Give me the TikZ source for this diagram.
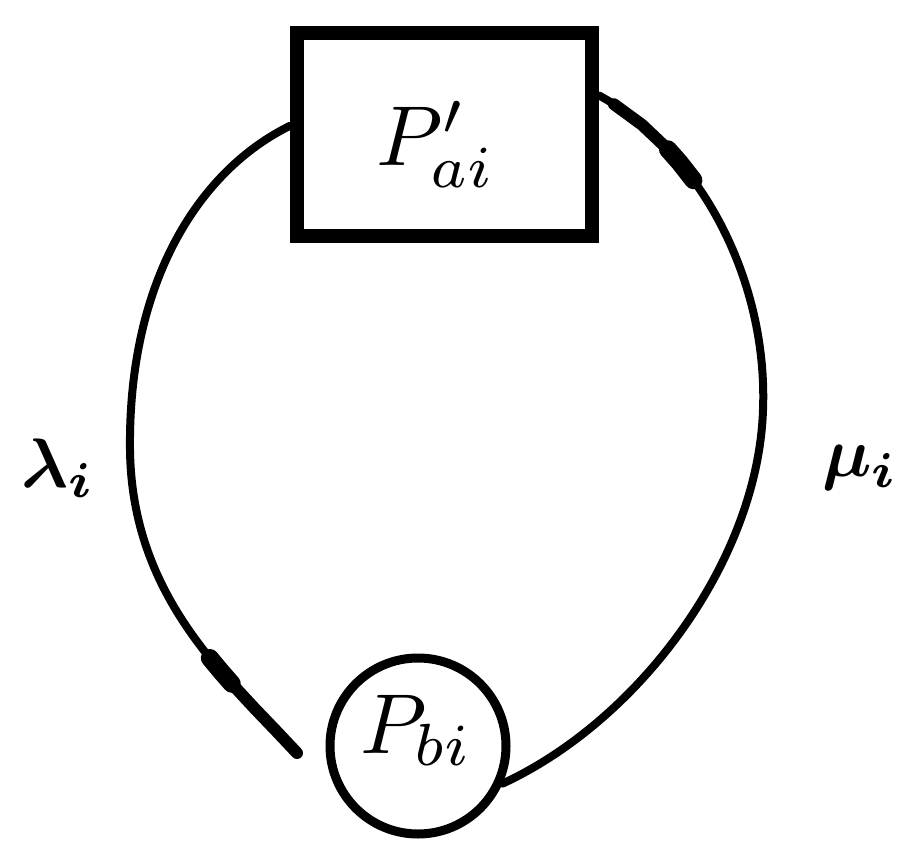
\documentclass[tikz,border=0pt]{standalone}
\usetikzlibrary{calc}
\begin{document}
\begin{tikzpicture}[x=1pt,y=-1pt,
  box/.style={draw,line width=14pt,rectangle,inner sep=0pt,minimum width=295pt,minimum height=203pt},
  ring/.style={draw,line width=9pt,circle,inner sep=0pt,minimum size=176pt},
  flow/.style={line width=8pt,line cap=round},
  spinA/.style={line width=12pt,line cap=round,line join=round},
  spinB/.style={line width=18pt,line cap=round,line join=round},
  big/.style={inner sep=0pt},
  lab/.style={inner sep=0pt}]
\useasboundingbox (0,0) rectangle (900,846);
\node[box] (rect) at (444.5,134.5) {};
\node[ring] (circ) at (418,746) {};
\coordinate (ls) at ($(rect.north west)!0.46!(rect.south west)$);
\coordinate (rs) at ($(rect.north east)!0.32!(rect.south east)$);
\coordinate (le) at (297,753);
% left connector (lambda)
\draw[flow] (ls) .. controls (200,170) and (128,280) .. (130,450)
  .. controls (132,600) and (230,680) ..
  coordinate[pos=.6] (l1) coordinate[pos=.65] (l2) coordinate[pos=.7] (l3)
  coordinate[pos=.8] (l4) coordinate[pos=.9] (l5) (le);
\draw[spinA] (l1) -- (l2) -- (l3) -- (l4) -- (l5) -- (le);
\draw[spinB] (l1) -- (l2) -- (l3);
% right connector (mu)
\draw[flow] (rs) .. controls (700,150) and (768,280) ..
  coordinate[pos=.05] (r1) coordinate[pos=.15] (r2) coordinate[pos=.25] (r3)
  coordinate[pos=.3] (r4) coordinate[pos=.36] (r5) (763,410)
  .. controls (758,560) and (640,720) .. (circ.-24);
\draw[spinA] (r1) -- (r2) -- (r3) -- (r4) -- (r5);
\draw[spinB] (r3) -- (r4) -- (r5);
% texts
\node[big,anchor=base west] (pa) at (376,165) {\scalebox{8.5}{$P'_{ai}$}};
\node[big,anchor=base west] (pb) at (360,753) {\scalebox{8.5}{$P_{bi}$}};
\node[lab] (lam) at (58,468) {\scalebox{7}{\boldmath$\lambda_i$}};
\node[lab] (mu) at (860,468) {\scalebox{7}{\boldmath$\mu_i$}};
\end{tikzpicture}
\end{document}
